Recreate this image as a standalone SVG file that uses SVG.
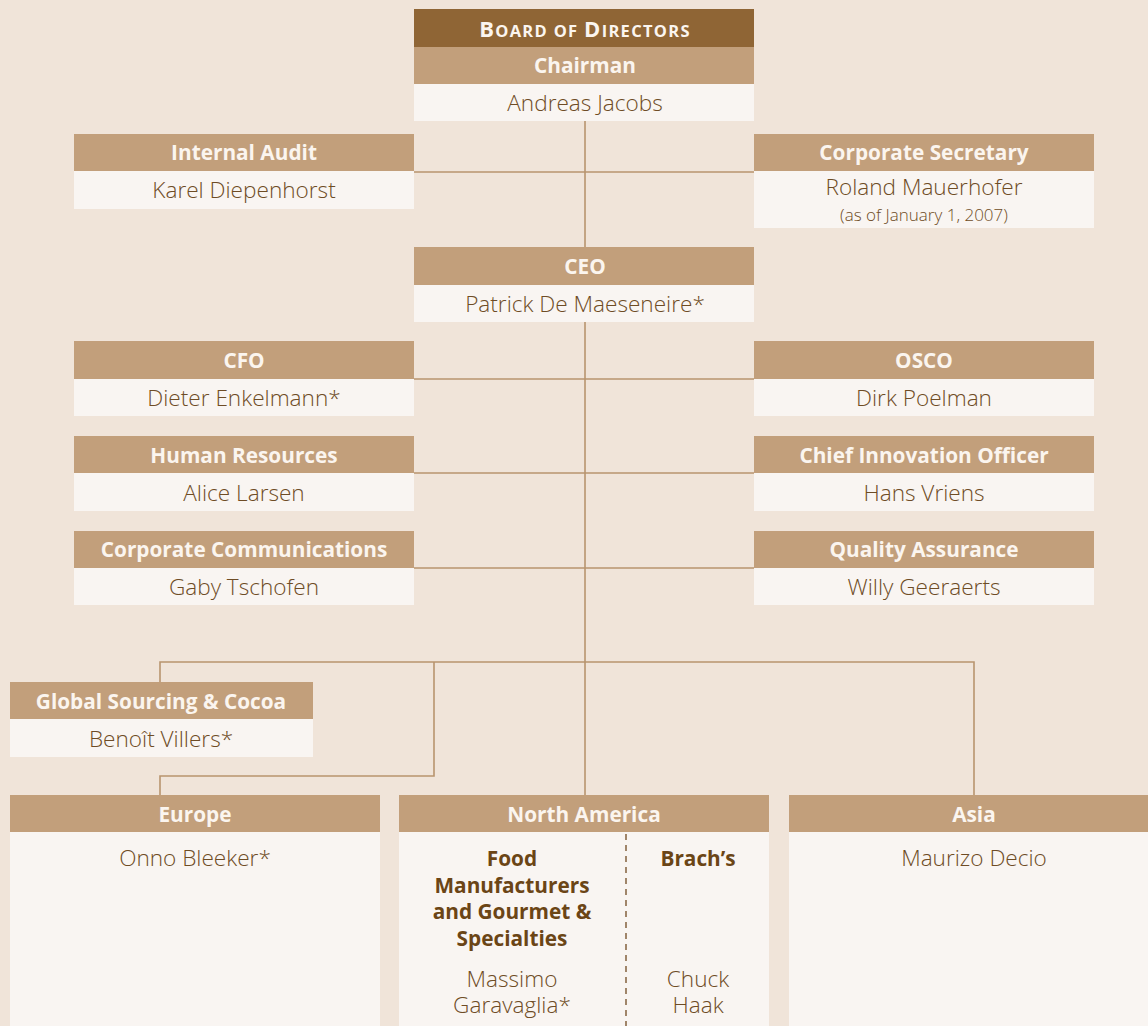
<svg xmlns="http://www.w3.org/2000/svg" width="1148" height="1026" viewBox="0 0 1148 1026">
<style>
.bg{fill:#F0E4D9}
.hd{fill:#C29F7B}
.hd2{fill:#8F6535}
.bd{fill:#F9F5F2}
.ht{font-family:"Open Sans","Noto Sans","Liberation Sans",sans-serif;font-weight:700;font-size:20.8px;fill:#FBF5EF;text-anchor:middle}
.bt{font-family:"Open Sans","Noto Sans","Liberation Sans",sans-serif;font-weight:300;font-size:22.6px;fill:#6E4C25;text-anchor:middle}
.st{font-family:"Open Sans","Noto Sans","Liberation Sans",sans-serif;font-weight:300;font-size:17px;fill:#6E4C25;text-anchor:middle}
.bb{font-family:"Open Sans","Noto Sans","Liberation Sans",sans-serif;font-weight:700;font-size:20.8px;fill:#6B4516;text-anchor:middle}
.ln{fill:none;stroke:#B8946E;stroke-width:1.6}
.dash{fill:none;stroke:#8A6A48;stroke-width:1.6;stroke-dasharray:6 5}
</style>
<rect class="bg" x="0" y="0" width="1148" height="1026"/>
<g id="connectors">
<path class="ln" d="M585 121 V247"/>
<path class="ln" d="M414 172 H754"/>
<path class="ln" d="M585 322 V795"/>
<path class="ln" d="M414 379 H754"/>
<path class="ln" d="M414 473 H754"/>
<path class="ln" d="M414 568 H754"/>
<path class="ln" d="M160 682 V662 H974 V795"/>
<path class="ln" d="M434 662 V776 H160 V795"/>
</g>
<g id="board">
<rect class="hd2" x="414" y="9" width="340" height="38"/>
<rect class="hd" x="414" y="47" width="340" height="37"/>
<rect class="bd" x="414" y="84" width="340" height="37"/>
<text class="ht" x="585" y="37" letter-spacing="1.3"><tspan font-size="22">B</tspan><tspan font-size="16.5">OARD OF </tspan><tspan font-size="22">D</tspan><tspan font-size="16.5">IRECTORS</tspan></text>
<text class="ht" x="585" y="73">Chairman</text>
<text class="bt" x="585" y="111">Andreas Jacobs</text>
</g>
<g id="internal-audit">
<rect class="hd" x="74" y="134" width="340" height="37"/>
<rect class="bd" x="74" y="171" width="340" height="38"/>
<text class="ht" x="244" y="160">Internal Audit</text>
<text class="bt" x="244" y="198">Karel Diepenhorst</text>
</g>
<g id="corporate-secretary">
<rect class="hd" x="754" y="134" width="340" height="37"/>
<rect class="bd" x="754" y="171" width="340" height="57"/>
<text class="ht" x="924" y="160">Corporate Secretary</text>
<text class="bt" x="924" y="195">Roland Mauerhofer</text>
<text class="st" x="924" y="221">(as of January 1, 2007)</text>
</g>
<g id="ceo">
<rect class="hd" x="414" y="247" width="340" height="38"/>
<rect class="bd" x="414" y="285" width="340" height="37"/>
<text class="ht" x="585" y="274">CEO</text>
<text class="bt" x="585" y="312">Patrick De Maeseneire*</text>
</g>
<g id="cfo">
<rect class="hd" x="74" y="341" width="340" height="38"/>
<rect class="bd" x="74" y="379" width="340" height="37"/>
<text class="ht" x="244" y="368">CFO</text>
<text class="bt" x="244" y="406">Dieter Enkelmann*</text>
</g>
<g id="osco">
<rect class="hd" x="754" y="341" width="340" height="38"/>
<rect class="bd" x="754" y="379" width="340" height="37"/>
<text class="ht" x="924" y="368">OSCO</text>
<text class="bt" x="924" y="406">Dirk Poelman</text>
</g>
<g id="human-resources">
<rect class="hd" x="74" y="436" width="340" height="37"/>
<rect class="bd" x="74" y="473" width="340" height="38"/>
<text class="ht" x="244" y="463">Human Resources</text>
<text class="bt" x="244" y="501">Alice Larsen</text>
</g>
<g id="chief-innovation-officer">
<rect class="hd" x="754" y="436" width="340" height="37"/>
<rect class="bd" x="754" y="473" width="340" height="38"/>
<text class="ht" x="924" y="463">Chief Innovation Officer</text>
<text class="bt" x="924" y="501">Hans Vriens</text>
</g>
<g id="corporate-communications">
<rect class="hd" x="74" y="531" width="340" height="37"/>
<rect class="bd" x="74" y="568" width="340" height="37"/>
<text class="ht" x="244" y="557">Corporate Communications</text>
<text class="bt" x="244" y="595">Gaby Tschofen</text>
</g>
<g id="quality-assurance">
<rect class="hd" x="754" y="531" width="340" height="37"/>
<rect class="bd" x="754" y="568" width="340" height="37"/>
<text class="ht" x="924" y="557">Quality Assurance</text>
<text class="bt" x="924" y="595">Willy Geeraerts</text>
</g>
<g id="global-sourcing">
<rect class="hd" x="10" y="682" width="303" height="37"/>
<rect class="bd" x="10" y="719" width="303" height="38"/>
<text class="ht" x="161" y="709">Global Sourcing &amp; Cocoa</text>
<text class="bt" x="161" y="747">Benoît Villers*</text>
</g>
<g id="europe">
<rect class="hd" x="10" y="795" width="370" height="37"/>
<rect class="bd" x="10" y="832" width="370" height="194"/>
<text class="ht" x="195" y="822">Europe</text>
<text class="bt" x="195" y="866">Onno Bleeker*</text>
</g>
<g id="north-america">
<rect class="hd" x="399" y="795" width="370" height="37"/>
<rect class="bd" x="399" y="832" width="370" height="194"/>
<text class="ht" x="584" y="822">North America</text>
<path class="dash" d="M626 834 V1026"/>
<text class="bb" x="512" y="866">Food</text>
<text class="bb" x="512" y="893">Manufacturers</text>
<text class="bb" x="512" y="919">and Gourmet &amp;</text>
<text class="bb" x="512" y="946">Specialties</text>
<text class="bt" x="512" y="987">Massimo</text>
<text class="bt" x="512" y="1013">Garavaglia*</text>
<text class="bb" x="698" y="866">Brach’s</text>
<text class="bt" x="698" y="987">Chuck</text>
<text class="bt" x="698" y="1013">Haak</text>
</g>
<g id="asia">
<rect class="hd" x="789" y="795" width="359" height="37"/>
<rect class="bd" x="789" y="832" width="359" height="194"/>
<text class="ht" x="974" y="822">Asia</text>
<text class="bt" x="974" y="866">Maurizo Decio</text>
</g>
</svg>
